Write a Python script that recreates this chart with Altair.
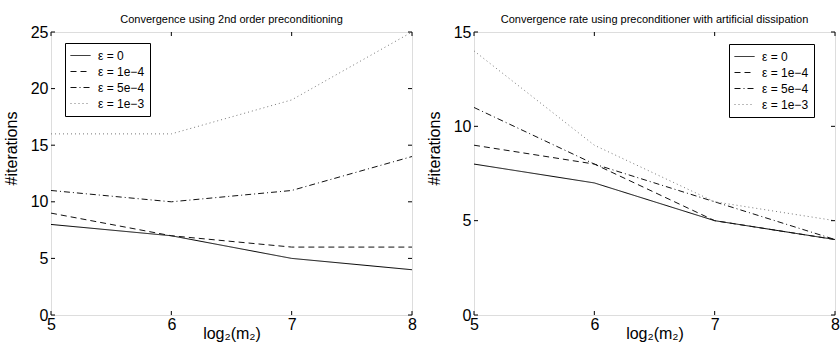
import altair as alt
import pandas as pd

# ---- data ----
x_vals = [5, 6, 7, 8]
eps_labels = ["ε = 0", "ε = 1e−4", "ε = 5e−4", "ε = 1e−3"]

left_eps0 = [8, 7, 5, 4]
left_eps1e4 = [9, 7, 6, 6]
left_eps5e4 = [11, 10, 11, 14]
left_eps1e3 = [16, 16, 19, 25]

right_eps0 = [8, 7, 5, 4]
right_eps1e4 = [9, 8, 5, 4]
right_eps5e4 = [11, 8, 6, 4]
right_eps1e3 = [14, 9, 6, 5]

x_ticks = [5, 6, 7, 8]
left_y_ticks = [0, 5, 10, 15, 20, 25]
right_y_ticks = [0, 5, 10, 15]

left_title = "Convergence using 2nd order preconditioning"
right_title = "Convergence rate using preconditioner with artificial dissipation"
x_title = "log₂(m₂)"
y_title = "#iterations"

FONT = "Liberation Sans"
W, H = 361, 283
TICK = 4


def make_df(series):
    rows = []
    for lab, ys in zip(eps_labels, series):
        for x, y in zip(x_vals, ys):
            rows.append({"x": x, "y": y, "eps": lab})
    return pd.DataFrame(rows)


def panel(series, ymax, yticks, title, lx, ly):
    df = make_df(series)
    xs = alt.Scale(domain=[5, 8], nice=False, zero=False)
    ys = alt.Scale(domain=[0, ymax], nice=False, zero=True)
    xax = alt.Axis(
        values=x_ticks, title=x_title, grid=False, ticks=False, domain=False,
        labelFont=FONT, labelFontSize=16, labelColor="black", labelPadding=1,
        labelFlush=False, labelOverlap=False,
        titleFont=FONT, titleFontSize=16, titleFontWeight="normal",
        titleColor="black", titleX=W / 2, titleY=23, titleAlign="center",
        titleBaseline="alphabetic")
    yax = alt.Axis(
        values=yticks, title=y_title, grid=False, ticks=False, domain=False,
        labelFont=FONT, labelFontSize=16, labelColor="black", labelPadding=3,
        labelFlush=False, labelOverlap=False,
        titleFont=FONT, titleFontSize=16, titleFontWeight="normal",
        titleColor="black", titleX=-35, titleY=116, titleAngle=-90,
        titleAlign="center", titleBaseline="alphabetic")
    leg = alt.Legend(
        orient="none", legendX=lx, legendY=ly, title=None,
        strokeColor="black", fillColor="white", padding=5,
        symbolType="stroke", symbolSize=400, symbolStrokeWidth=1,
        labelFont=FONT, labelFontSize=12, labelColor="black",
        labelOffset=7, rowPadding=1, clipHeight=15,
    )
    X = alt.X("x:Q", scale=xs, axis=xax, title=x_title)
    Y = alt.Y("y:Q", scale=ys, axis=yax, title=y_title)
    lines = alt.Chart(df).mark_line(strokeWidth=1).encode(
        x=X, y=Y,
        strokeDash=alt.StrokeDash("eps:N", scale=alt.Scale(
            domain=eps_labels, range=[[1, 0], [6, 4], [6, 3, 1, 3], [1, 3]]), legend=leg),
        color=alt.Color("eps:N", scale=alt.Scale(
            domain=eps_labels, range=["#000000", "#111111", "#111111", "#777777"]), legend=leg),
    )
    xt = pd.DataFrame({"x": x_ticks})
    yt = pd.DataFrame({"y": yticks})
    xb = alt.Chart(xt).mark_rule(color="black", strokeWidth=1).encode(
        x=X, y=alt.value(H), y2=alt.value(H - TICK))
    xtp = alt.Chart(xt).mark_rule(color="black", strokeWidth=1).encode(
        x=X, y=alt.value(0), y2=alt.value(TICK))
    yl = alt.Chart(yt).mark_rule(color="black", strokeWidth=1).encode(
        y=Y, x=alt.value(0), x2=alt.value(TICK))
    yr = alt.Chart(yt).mark_rule(color="black", strokeWidth=1).encode(
        y=Y, x=alt.value(W), x2=alt.value(W - TICK))
    return alt.layer(lines, xb, xtp, yl, yr).properties(
        width=W, height=H,
        title=alt.TitleParams(title, font=FONT, fontSize=11, fontWeight="normal",
                              color="black", offset=-1, anchor="middle", frame="group"),
    )


left = panel([left_eps0, left_eps1e4, left_eps5e4, left_eps1e3], 25, left_y_ticks,
             left_title, 14, 11)
right = panel([right_eps0, right_eps1e4, right_eps5e4, right_eps1e3], 15, right_y_ticks,
              right_title, 255, 12)

chart = alt.hconcat(left, right, spacing=62, bounds="flush").resolve_scale(
    color="independent", strokeDash="independent"
).resolve_legend(color="independent", strokeDash="independent").properties(
    padding={"left": 2, "top": 13, "right": 0, "bottom": 0}
).configure_view(stroke="black", strokeWidth=1).configure(background="white")

chart.save("out.html", embed_options={"renderer": "svg", "actions": False})
